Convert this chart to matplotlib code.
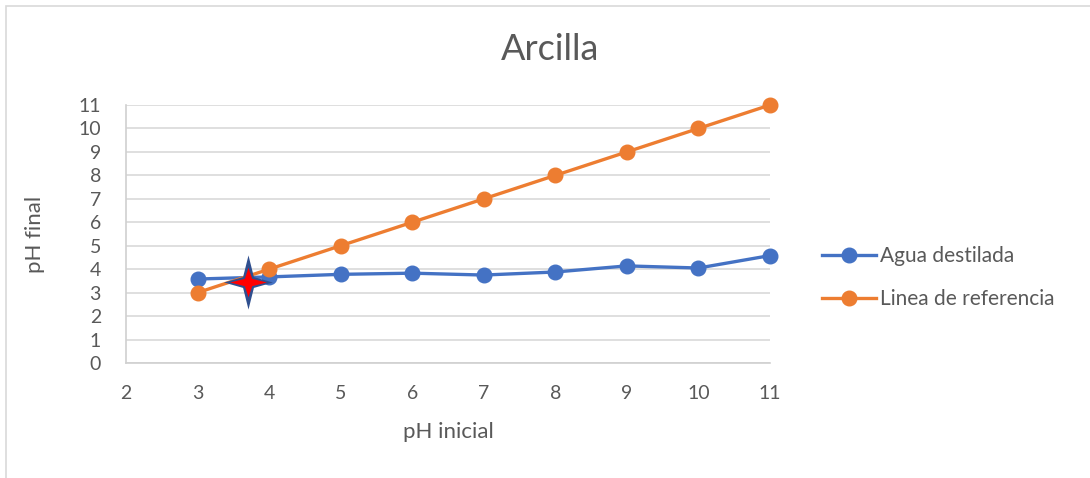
import matplotlib.pyplot as plt
import numpy
from matplotlib.path import Path
from matplotlib.patches import Rectangle

plt.rcParams['font.family'] = ['Lato', 'DejaVu Sans']

# pH readings
ph_inicial = [3, 4, 5, 6, 7, 8, 9, 10, 11]
agua_destilada = [3.58, 3.67, 3.78, 3.83, 3.75, 3.88, 4.14, 4.05, 4.58]
linea_referencia = [3, 4, 5, 6, 7, 8, 9, 10, 11]
punto_cruce = (3.71, 3.45)

azul = '#4472C4'
naranja = '#ED7D31'
gris_texto = '#595959'


def Star(halfW, halfH, waist):
    verts = []
    tips = [(0, halfH), (halfW, 0), (0, -halfH), (-halfW, 0)]
    dents = [(waist, waist), (waist, -waist), (-waist, -waist), (-waist, waist)]
    for i in range(4):
        verts.append(tips[i])
        verts.append(dents[i])
    verts.append(tips[0])
    codes = [Path.MOVETO] + [Path.LINETO] * 7 + [Path.CLOSEPOLY]
    return Path(numpy.array(verts, dtype=float), codes)


fig = plt.figure(figsize=(10.9, 4.78), dpi=100)
fig.patches.append(Rectangle((6/1090, -0.01), 1.2, 1.01 - 6/478,
                             transform=fig.transFigure, fill=False,
                             edgecolor='#D9D9D9', linewidth=1.2))

ax = fig.add_axes([126/1090, 1 - 363/478, (770 - 126)/1090, (363 - 105)/478])

ax.plot(ph_inicial, agua_destilada, color=azul, linewidth=2.4, marker='o',
        markersize=10.5, label='Agua destilada', zorder=3, clip_on=False)
ax.plot(ph_inicial, linea_referencia, color=naranja, linewidth=2.4, marker='o',
        markersize=10.5, label='Linea de referencia', zorder=3, clip_on=False)

# star on the crossing point
ax.plot([punto_cruce[0]], [punto_cruce[1]], linestyle='none',
        marker=Star(0.45, 0.5, 0.1), markersize=39, color='#2F4F8F',
        markeredgewidth=0, zorder=5)
ax.plot([punto_cruce[0]], [punto_cruce[1]], linestyle='none',
        marker=Star(0.5, 0.4, 0.1), markersize=26.5, color='#FF0000',
        markeredgewidth=0, zorder=6)

ax.set_xlim(2, 11)
ax.set_ylim(0, 11)
ax.set_xticks(range(2, 12))
ax.set_yticks(range(0, 12))
ax.grid(axis='y', color='#D9D9D9', linewidth=1.2)
ax.set_axisbelow(True)
for s in ['top', 'right']:
    ax.spines[s].set_visible(False)
for s in ['left', 'bottom']:
    ax.spines[s].set_color('#D0D0D0')
    ax.spines[s].set_linewidth(1.2)
ax.tick_params(length=0, labelsize=14, colors=gris_texto)
ax.tick_params(axis='x', pad=16)
ax.tick_params(axis='y', pad=18)

ax.set_xlabel('pH inicial', fontsize=16, color=gris_texto, labelpad=14)
ax.set_ylabel('pH final', fontsize=16, color=gris_texto, labelpad=24)
fig.text(550/1090, 1 - 50/478, 'Arcilla', fontsize=26, color=gris_texto,
         ha='center', va='center')

leg = ax.legend(loc='center left', bbox_to_anchor=(1.051, 0.331), frameon=False,
                fontsize=15, labelcolor=gris_texto, handlelength=2.6,
                handletextpad=0.2, labelspacing=1.1)

fig.savefig('out.png', dpi=100)
